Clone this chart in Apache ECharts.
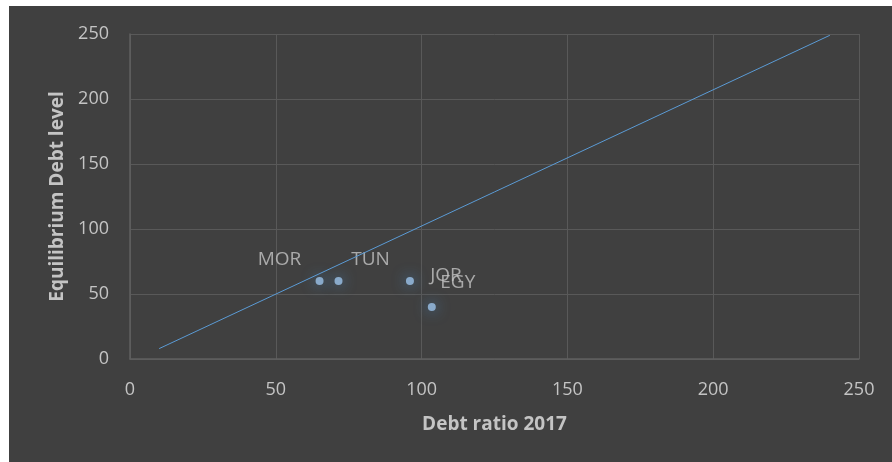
<!DOCTYPE html>
<html>
<head>
<meta charset="utf-8">
<script src="https://cdn.jsdelivr.net/npm/echarts@6/dist/echarts.min.js"></script>
<style>
  html, body { margin: 0; padding: 0; background: #fff; }
  #tu { position: absolute; left: 9px; top: 6px; width: 883px; height: 456px; background: #404040; }
</style>
</head>
<body>
<div id="tu"></div>
<script>
var countries = ['MOR', 'TUN', 'JOR', 'EGY'];
var debtRatio = [65, 71.5, 96, 103.5];
var eqDebt = [60, 60, 60, 40];
var lineX = [10, 240];
var lineY = [8, 249];
var xTicks = [0, 50, 100, 150, 200, 250];
var yTicks = [0, 50, 100, 150, 200, 250];

// label placement next to each point
var labelOffsets = { MOR: [-40, -21], TUN: [32, -21], JOR: [36, -5], EGY: [26, -24] };

var myChart = echarts.init(document.getElementById('tu'));

var txt = '#c4c4c4';
var font = '"Open Sans", sans-serif';

var points = countries.map(function(c, i) {
    return {
        value: [debtRatio[i], eqDebt[i]],
        name: c,
        label: { show: true, formatter: c, position: 'inside', offset: labelOffsets[c] }
    };
});

var option = {
    animation: false,
    grid: { left: 121, right: 33, top: 28, bottom: 103 },
    xAxis: {
        type: 'value', min: xTicks[0], max: xTicks[xTicks.length - 1], interval: 50,
        name: 'Debt ratio 2017', nameLocation: 'middle', nameGap: 56,
        nameTextStyle: { color: txt, fontSize: 19, fontWeight: 'bold', fontFamily: font },
        axisLine: { show: true, lineStyle: { color: '#5f5f5f', width: 1.5 } },
        axisTick: { show: false },
        axisLabel: { color: txt, fontSize: 18, margin: 22, fontFamily: font },
        splitLine: { show: true, lineStyle: { color: '#595959' } }
    },
    yAxis: {
        type: 'value', min: yTicks[0], max: yTicks[yTicks.length - 1], interval: 50,
        name: 'Equilibrium Debt level', nameLocation: 'middle', nameGap: 63, nameRotate: 90,
        nameTextStyle: { color: txt, fontSize: 19, fontWeight: 'bold', fontFamily: font },
        axisLine: { show: true, lineStyle: { color: '#5f5f5f', width: 1.5 } },
        axisTick: { show: false },
        axisLabel: { color: txt, fontSize: 18, margin: 21, fontFamily: font },
        splitLine: { show: true, lineStyle: { color: '#595959' } }
    },
    series: [{
        type: 'line',
        data: lineX.map(function(x, i) { return [x, lineY[i]]; }),
        showSymbol: false,
        lineStyle: { color: '#5b9bd5', width: 1 },
        silent: true
    }, {
        type: 'scatter',
        data: points,
        symbolSize: 8,
        itemStyle: { color: '#9cc3ea', shadowBlur: 14, shadowColor: '#4a8fd0' },
        label: { color: txt, fontSize: 19, fontFamily: font }
    }]
};

myChart.setOption(option);
</script>
</body>
</html>
